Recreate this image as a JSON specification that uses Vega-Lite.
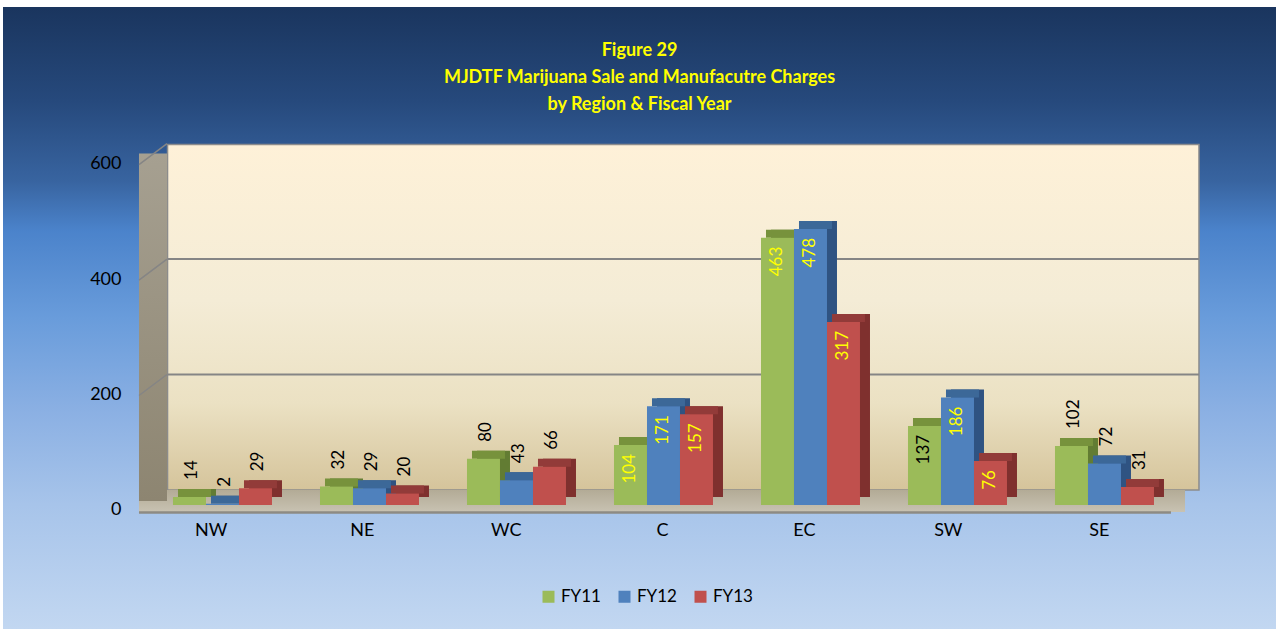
{
  "$schema": "https://vega.github.io/schema/vega-lite/v6.json",
  "width": 1276,
  "height": 629,
  "autosize": {"type": "fit", "contains": "padding"},
  "padding": {"top": 7, "left": 3, "right": 0, "bottom": 0},
  "background": "#ffffff",
  "title": {
    "text": ["Figure 29", "MJDTF Marijuana Sale and Manufacutre Charges", "by Region & Fiscal Year"],
    "orient": "top",
    "anchor": "middle",
    "frame": "group",
    "offset": -107,
    "baseline": "top",
    "font": "Lato",
    "fontSize": 18,
    "fontWeight": "bold",
    "color": "#ffff00",
    "lineHeight": 27
  },
  "data": {
    "values": [
      {"region": "NW", "year": "FY11", "value": 14},
      {"region": "NW", "year": "FY12", "value": 2},
      {"region": "NW", "year": "FY13", "value": 29},
      {"region": "NE", "year": "FY11", "value": 32},
      {"region": "NE", "year": "FY12", "value": 29},
      {"region": "NE", "year": "FY13", "value": 20},
      {"region": "WC", "year": "FY11", "value": 80},
      {"region": "WC", "year": "FY12", "value": 43},
      {"region": "WC", "year": "FY13", "value": 66},
      {"region": "C", "year": "FY11", "value": 104},
      {"region": "C", "year": "FY12", "value": 171},
      {"region": "C", "year": "FY13", "value": 157},
      {"region": "EC", "year": "FY11", "value": 463},
      {"region": "EC", "year": "FY12", "value": 478},
      {"region": "EC", "year": "FY13", "value": 317},
      {"region": "SW", "year": "FY11", "value": 137},
      {"region": "SW", "year": "FY12", "value": 186},
      {"region": "SW", "year": "FY13", "value": 76},
      {"region": "SE", "year": "FY11", "value": 102},
      {"region": "SE", "year": "FY12", "value": 72},
      {"region": "SE", "year": "FY13", "value": 31}
    ]
  },
  "resolve": {"scale": {"color": "independent", "xOffset": "independent"}},
  "layer": [
    {
      "data": {"values": [{}]},
      "mark": {
        "type": "rect",
        "fill": {"gradient": "linear", "x1": 0, "y1": 0, "x2": 0, "y2": 1, "stops": [
          {"offset": 0, "color": "#fef1d8"},
          {"offset": 0.45, "color": "#f4ecd6"},
          {"offset": 0.75, "color": "#ebe1c3"},
          {"offset": 1, "color": "#d5c49b"}
        ]},
        "stroke": "#8c8c8c",
        "strokeWidth": 1.5,
        "yOffset": -15,
        "y2Offset": -14
      },
      "encoding": {
        "x": {"datum": "NW", "type": "nominal", "bandPosition": -0.05, "title": null, "scale": {"domain": ["NW", "NE", "WC", "C", "EC", "SW", "SE"], "paddingInner": 0.2585, "paddingOuter": 0.9592, "align": 0.6028}},
        "x2": {"datum": "SE", "bandPosition": 1.321},
        "y": {"datum": 0, "type": "quantitative", "title": null, "scale": {"domain": [-214.8, 862.5], "nice": false, "zero": false}},
        "y2": {"datum": 600}
      }
    },
    {
      "data": {"values": [{"grid": 200}, {"grid": 400}]},
      "mark": {"type": "rule", "stroke": "#858585", "strokeWidth": 2, "yOffset": -15},
      "encoding": {
        "x": {"datum": "NW", "type": "nominal", "bandPosition": -0.05, "title": null, "scale": {"domain": ["NW", "NE", "WC", "C", "EC", "SW", "SE"], "paddingInner": 0.2585, "paddingOuter": 0.9592, "align": 0.6028}},
        "x2": {"datum": "SE", "bandPosition": 1.321},
        "y": {"field": "grid", "type": "quantitative", "title": null, "scale": {"domain": [-214.8, 862.5], "nice": false, "zero": false}}
      }
    },
    {
      "data": {"values": [{}]},
      "mark": {
        "type": "rect",
        "fill": {"gradient": "linear", "x1": 0, "y1": 0, "x2": 0, "y2": 1, "stops": [
          {"offset": 0, "color": "#b3ab96"},
          {"offset": 1, "color": "#c8c2b2"}
        ]},
        "yOffset": 7,
        "y2Offset": -15
      },
      "encoding": {
        "x": {"datum": "NW", "type": "nominal", "bandPosition": -0.312, "title": null, "scale": {"domain": ["NW", "NE", "WC", "C", "EC", "SW", "SE"], "paddingInner": 0.2585, "paddingOuter": 0.9592, "align": 0.6028}},
        "x2": {"datum": "SE", "bandPosition": 1.193},
        "y": {"datum": 0, "type": "quantitative", "title": null, "scale": {"domain": [-214.8, 862.5], "nice": false, "zero": false}},
        "y2": {"datum": 0}
      }
    },
    {
      "data": {"values": [{}]},
      "mark": {"type": "rule", "stroke": "#8d8a83", "strokeWidth": 2.5, "yOffset": 7.5},
      "encoding": {
        "x": {"datum": "NW", "type": "nominal", "bandPosition": -0.312, "title": null, "scale": {"domain": ["NW", "NE", "WC", "C", "EC", "SW", "SE"], "paddingInner": 0.2585, "paddingOuter": 0.9592, "align": 0.6028}},
        "x2": {"datum": "SE", "bandPosition": 1.064},
        "y": {"datum": 0, "type": "quantitative", "title": null, "scale": {"domain": [-214.8, 862.5], "nice": false, "zero": false}}
      }
    },
    {
      "data": {"values": [{}]},
      "mark": {
        "type": "rect",
        "fill": {"gradient": "linear", "x1": 0, "y1": 0, "x2": 0, "y2": 1, "stops": [
          {"offset": 0, "color": "#a6a091"},
          {"offset": 1, "color": "#8d8571"}
        ]},
        "yOffset": -4,
        "y2Offset": -5
      },
      "encoding": {
        "x": {"datum": "NW", "type": "nominal", "bandPosition": -0.312, "title": null, "scale": {"domain": ["NW", "NE", "WC", "C", "EC", "SW", "SE"], "paddingInner": 0.2585, "paddingOuter": 0.9592, "align": 0.6028}},
        "x2": {"datum": "NW", "bandPosition": -0.055},
        "y": {"datum": 0, "type": "quantitative", "title": null, "scale": {"domain": [-214.8, 862.5], "nice": false, "zero": false}},
        "y2": {"datum": 600}
      }
    },
    {
      "data": {"values": [{"grid": 200}, {"grid": 400}, {"grid": 600}]},
      "mark": {"type": "rule", "stroke": "#858585", "strokeWidth": 1.5, "yOffset": 6, "y2Offset": -15},
      "encoding": {
        "x": {"datum": "NW", "type": "nominal", "bandPosition": -0.312, "title": null, "scale": {"domain": ["NW", "NE", "WC", "C", "EC", "SW", "SE"], "paddingInner": 0.2585, "paddingOuter": 0.9592, "align": 0.6028}},
        "x2": {"datum": "NW", "bandPosition": -0.055},
        "y": {"field": "grid", "type": "quantitative", "title": null, "scale": {"domain": [-214.8, 862.5], "nice": false, "zero": false}},
        "y2": {"field": "grid"}
      }
    },
    {
      "mark": {"type": "bar", "yOffset": -8, "y2Offset": -8},
      "encoding": {
        "x": {"field": "region", "type": "nominal", "title": null, "scale": {"domain": ["NW", "NE", "WC", "C", "EC", "SW", "SE"], "paddingInner": 0.2585, "paddingOuter": 0.9592, "align": 0.6028}},
        "xOffset": {"field": "year", "type": "nominal", "scale": {"domain": ["FY11", "FY12", "FY13"], "paddingInner": 0, "paddingOuter": 0.1515, "align": 1}},
        "y": {"field": "value", "type": "quantitative", "title": null, "scale": {"domain": [-214.8, 862.5], "nice": false, "zero": false}},
        "color": {"field": "year", "type": "nominal", "scale": {"domain": ["FY11", "FY12", "FY13"], "range": ["#627c33", "#2f5382", "#7f302e"]}, "legend": null}
      }
    },
    {
      "mark": {"type": "bar", "yOffset": -8, "y2Offset": 0},
      "encoding": {
        "x": {"field": "region", "type": "nominal", "title": null, "scale": {"domain": ["NW", "NE", "WC", "C", "EC", "SW", "SE"], "paddingInner": 0.2585, "paddingOuter": 0.9592, "align": 0.6028}},
        "xOffset": {"field": "year", "type": "nominal", "scale": {"domain": ["FY11", "FY12", "FY13"], "paddingInner": 0, "paddingOuter": 0.1515, "align": 0.5}},
        "y": {"field": "value", "type": "quantitative", "title": null, "scale": {"domain": [-214.8, 862.5], "nice": false, "zero": false}},
        "y2": {"field": "value"},
        "color": {"field": "year", "type": "nominal", "scale": {"domain": ["FY11", "FY12", "FY13"], "range": ["#77923c", "#3c6898", "#923b39"]}, "legend": null}
      }
    },
    {
      "mark": {"type": "bar"},
      "encoding": {
        "x": {
          "field": "region", "type": "nominal", "title": null,
          "scale": {"domain": ["NW", "NE", "WC", "C", "EC", "SW", "SE"], "paddingInner": 0.2585, "paddingOuter": 0.9592, "align": 0.6028},
          "axis": {"title": null, "grid": false, "domain": false, "ticks": false, "tickSize": 0, "labelPadding": 0, "offset": -99, "labelOffset": 0, "labelAngle": 0, "labelFont": "Lato", "labelFontSize": 18, "labelColor": "#000000", "zindex": 1}
        },
        "xOffset": {"field": "year", "type": "nominal", "scale": {"domain": ["FY11", "FY12", "FY13"], "paddingInner": 0, "paddingOuter": 0.1515, "align": 0}},
        "y": {
          "field": "value", "type": "quantitative", "title": null,
          "scale": {"domain": [-214.8, 862.5], "nice": false, "zero": false},
          "axis": {"title": null, "values": [0, 200, 400, 600], "grid": false, "domain": false, "ticks": false, "tickSize": 0, "labelPadding": 0, "offset": -118, "labelOffset": 5, "labelFont": "Lato", "labelFontSize": 18, "labelColor": "#000000", "zindex": 1}
        },
        "color": {
          "field": "year", "type": "nominal",
          "scale": {"domain": ["FY11", "FY12", "FY13"], "range": ["#9bbb59", "#4f81bd", "#c0504d"]},
          "legend": {"orient": "none", "legendX": 537, "legendY": 581, "direction": "horizontal", "title": null, "symbolType": "square", "symbolSize": 144, "symbolStrokeWidth": 0, "labelFont": "Lato", "labelFontSize": 17, "labelColor": "#000000", "labelOffset": 4, "columnPadding": 15}
        }
      }
    },
    {
      "transform": [{"filter": {"field": "region", "oneOf": ["NW", "NE", "WC", "SE"]}}],
      "mark": {"type": "text", "angle": 270, "align": "left", "baseline": "middle", "dx": 17, "dy": 3, "font": "Lato", "fontSize": 17, "color": "#000000"},
      "encoding": {
        "x": {"field": "region", "type": "nominal", "title": null, "scale": {"domain": ["NW", "NE", "WC", "C", "EC", "SW", "SE"], "paddingInner": 0.2585, "paddingOuter": 0.9592, "align": 0.6028}},
        "xOffset": {"field": "year", "type": "nominal", "scale": {"type": "point", "domain": ["FY11", "FY12", "FY13"], "padding": 0.6515, "align": 0.3837}},
        "y": {"field": "value", "type": "quantitative", "title": null, "scale": {"domain": [-214.8, 862.5], "nice": false, "zero": false}},
        "text": {"field": "value", "type": "quantitative"}
      }
    },
    {
      "transform": [{"filter": {"field": "region", "oneOf": ["C", "EC", "SW"]}}],
      "mark": {"type": "text", "angle": 270, "align": "right", "baseline": "middle", "dx": -9, "font": "Lato", "fontSize": 17},
      "encoding": {
        "x": {"field": "region", "type": "nominal", "title": null, "scale": {"domain": ["NW", "NE", "WC", "C", "EC", "SW", "SE"], "paddingInner": 0.2585, "paddingOuter": 0.9592, "align": 0.6028}},
        "xOffset": {"field": "year", "type": "nominal", "scale": {"type": "point", "domain": ["FY11", "FY12", "FY13"], "padding": 0.6515, "align": 0.3837}},
        "y": {"field": "value", "type": "quantitative", "title": null, "scale": {"domain": [-214.8, 862.5], "nice": false, "zero": false}},
        "text": {"field": "value", "type": "quantitative"},
        "color": {"condition": {"test": "datum.region === 'SW' && datum.year === 'FY11'", "value": "#000000"}, "value": "#ffff00"}
      }
    }
  ],
  "config": {
    "font": "Lato",
    "axis": {"grid": false, "domain": false, "ticks": false},
    "view": {
      "stroke": null,
      "fill": {"gradient": "linear", "x1": 0, "y1": 0, "x2": 0, "y2": 1, "stops": [
        {"offset": 0, "color": "#1a355e"},
        {"offset": 0.15, "color": "#26497c"},
        {"offset": 0.28, "color": "#3864a0"},
        {"offset": 0.36, "color": "#4b83cb"},
        {"offset": 0.5, "color": "#699cdb"},
        {"offset": 0.65, "color": "#8bb0e3"},
        {"offset": 0.8, "color": "#a7c4ea"},
        {"offset": 1, "color": "#c2d7f1"}
      ]}
    }
  }
}
